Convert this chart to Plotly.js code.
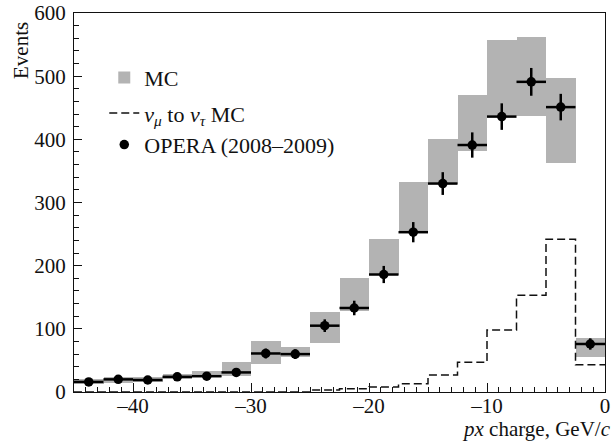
<!DOCTYPE html>
<html><head><meta charset="utf-8">
<script src="https://cdn.plot.ly/plotly-3.0.1.min.js"></script>
<style>html,body{margin:0;padding:0;background:#fff}#chart{width:615px;height:442px}</style>
</head><body><div id="chart"></div>
<script>
const binEdges = [-45,-42.5,-40,-37.5,-35,-32.5,-30,-27.5,-25,-22.5,-20,-17.5,-15,-12.5,-10,-7.5,-5,-2.5,0];
const mcLow  = [12,15,16,21,23,25,45,55,77,128,185,252,330,381,437,437,363,56];
const mcHigh = [20,24,23,28,33,47,80,72,126,181,243,333,401,470,558,562,497,85];
const numuToNutau = [0,0,0,0,0,0,0,0,3,5,8,13,27,47,98,153,242,43];
const operaEvents = [16,20,19,24,25,31,61,60,105,133,186,253,330,391,436,491,451,76];
const operaErr = [4,4.5,4.4,5,5,5.6,7.8,7.7,10,11.5,13.6,16,18,20,21,22,21,9];
const xLabelVals = [-40,-30,-20,-10,0];
const xLabelText = ['–40','–30','–20','–10','0'];
const xMidTickVals = [-45,-35,-25,-15,-5];
const yTickVals = [0,100,200,300,400,500,600];

const centers = binEdges.slice(0,-1).map((e,i)=> (e+binEdges[i+1])/2);
const widths = binEdges.slice(0,-1).map((e,i)=> binEdges[i+1]-e);
const halfW = widths.map(w=>w/2);

const FONT = 'Liberation Serif, Times New Roman, serif';
const INK = '#111';

const traces = [
  {
    type:'bar', name:'MC', x:centers, base:mcLow,
    y:mcHigh.map((h,i)=>h-mcLow[i]), width:widths,
    marker:{color:'#b3b3b3', line:{width:0}},
    legendgroup:'a', hoverinfo:'skip'
  },
  {
    type:'scatter', mode:'lines', name:'<i>ν</i><sub><i>μ</i></sub> to <i>ν</i><sub><i>τ</i></sub> MC',
    x:binEdges, y:numuToNutau.concat([numuToNutau[numuToNutau.length-1]]),
    line:{shape:'hv', color:INK, width:1.5, dash:'8px,4px'},
    legendgroup:'b'
  },
  {
    type:'scatter', mode:'markers', name:'OPERA (2008–2009)',
    x:centers, y:operaEvents,
    marker:{color:'#000', size:9.5},
    error_y:{type:'data', array:operaErr, visible:true, color:'#000', thickness:2.5, width:0},
    error_x:{type:'data', array:halfW, visible:true, color:'#000', thickness:2.5, width:0},
    legendgroup:'b'
  }
];

const layout = {
  width:615, height:442,
  paper_bgcolor:'#fff', plot_bgcolor:'#fff',
  font:{family:FONT, size:21, color:INK},
  margin:{l:74, r:10, t:13, b:50, pad:0},
  barmode:'overlay', bargap:0,
  showlegend:true,
  legend:{x:0.057, y:0.885, xanchor:'left', yanchor:'top', bgcolor:'rgba(0,0,0,0)',
          font:{family:FONT, size:22, color:INK}, traceorder:'grouped', tracegroupgap:4},
  xaxis:{
    range:[-45,0], showgrid:false, zeroline:false, showline:true, linecolor:INK, linewidth:1, mirror:true,
    ticks:'inside', ticklen:9, tickwidth:1, tickcolor:INK,
    tickmode:'array', tickvals:xLabelVals, ticktext:xLabelText, ticklabelstandoff:-5,
    tickfont:{family:FONT, size:21, color:INK},
    minor:{tickmode:'linear', tick0:0, dtick:1, ticks:'inside', ticklen:5, tickcolor:INK, showgrid:false}
  },
  xaxis2:{
    overlaying:'x', anchor:'y', side:'bottom', range:[-45,0],
    showgrid:false, zeroline:false, showline:false,
    ticks:'inside', ticklen:9, tickwidth:1, tickcolor:INK,
    tickmode:'array', tickvals:xMidTickVals, showticklabels:false
  },
  yaxis:{
    range:[0,600], showgrid:false, zeroline:false, showline:true, linecolor:INK, linewidth:1, mirror:true,
    ticks:'inside', ticklen:8, tickwidth:1, tickcolor:INK,
    tickmode:'array', tickvals:yTickVals, ticklabelstandoff:3,
    tickfont:{family:FONT, size:21, color:INK},
    minor:{tickmode:'linear', tick0:0, dtick:20, ticks:'inside', ticklen:5, tickcolor:INK, showgrid:false}
  },
  annotations:[
    {text:'<i>px</i> charge, GeV/<i>c</i>', xref:'paper', yref:'paper', x:1, y:0, xanchor:'right', yanchor:'middle',
     xshift:8, yshift:-37, showarrow:false, font:{family:FONT, size:21, color:INK}},
    {text:'Events', textangle:-90, xref:'paper', yref:'paper', x:0, y:1, xanchor:'center', yanchor:'middle',
     xshift:-53, yshift:-38, showarrow:false, font:{family:FONT, size:21, color:INK}}
  ]
};

Plotly.newPlot('chart', traces, layout, {displayModeBar:false, staticPlot:true});
</script>
</body></html>
